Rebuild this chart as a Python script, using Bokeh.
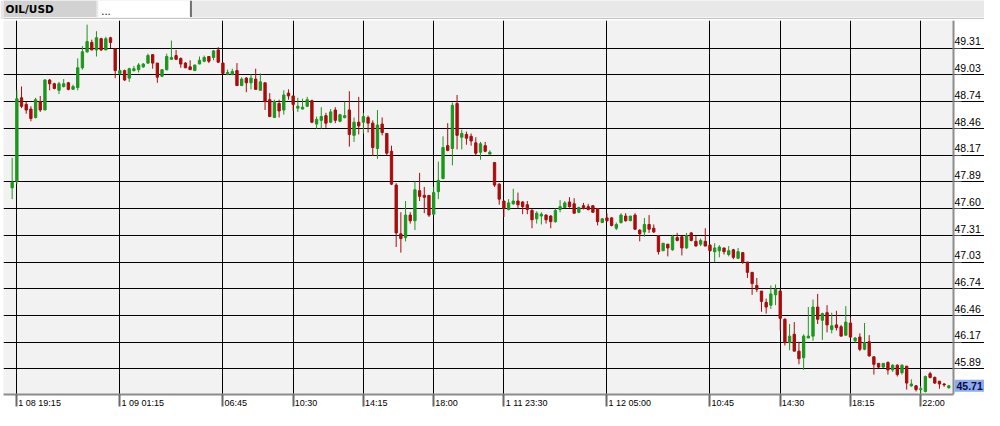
from bokeh.plotting import figure
from bokeh.models import Range1d, FixedTicker, CustomJSTickFormatter, ColumnDataSource, Label
from bokeh.layouts import column
from bokeh.embed import file_html
from bokeh.resources import INLINE
from bokeh.core.properties import value

# ---------------- data ----------------
symbol = "OIL/USD"
tab2_text = "..."

opens = [47.82, 47.89, 48.78, 48.71, 48.66, 48.57, 48.74, 48.65, 48.97, 48.93,
         48.86, 48.90, 48.94, 48.87, 48.89, 49.10, 49.27, 49.37, 49.29, 49.41,
         49.29, 49.42, 49.30, 49.04, 49.07, 48.99, 49.07, 49.08, 49.11, 49.15,
         49.24, 49.15, 49.01, 49.08, 49.19, 49.23, 49.20, 49.15, 49.11, 49.07,
         49.14, 49.17, 49.22, 49.21, 49.29, 49.15, 49.03, 49.03, 49.07, 48.91,
         48.99, 48.94, 48.98, 48.86, 48.94, 48.76, 48.57, 48.72, 48.65, 48.83,
         48.80, 48.67, 48.66, 48.69, 48.75, 48.50, 48.54, 48.59, 48.52, 48.65,
         48.53, 48.57, 48.65, 48.38, 48.52, 48.52, 48.57, 48.51, 48.24, 48.50,
         48.40, 48.21, 47.85, 47.33, 47.29, 47.53, 47.47, 47.79, 47.74, 47.74,
         47.54, 47.78, 47.92, 48.27, 48.24, 48.72, 48.36, 48.39, 48.37, 48.30,
         48.20, 48.27, 48.18, 48.09, 47.86, 47.68, 47.59, 47.65, 47.68, 47.67,
         47.64, 47.58, 47.49, 47.52, 47.53, 47.52, 47.46, 47.59, 47.61, 47.67,
         47.65, 47.56, 47.63, 47.62, 47.63, 47.60, 47.45, 47.50, 47.50, 47.39,
         47.45, 47.52, 47.47, 47.53, 47.37, 47.35, 47.43, 47.39, 47.31, 47.15,
         47.22, 47.16, 47.29, 47.30, 47.18, 47.34, 47.25, 47.22, 47.25, 47.21,
         47.14, 47.15, 47.18, 47.11, 47.16, 47.07, 47.13, 47.03, 46.92, 46.78,
         46.72, 46.60, 46.57, 46.68, 46.72, 46.42, 46.17, 46.26, 46.08, 46.01,
         46.22, 46.24, 46.55, 46.41, 46.49, 46.31, 46.36, 46.34, 46.25, 46.38,
         46.19, 46.23, 46.10, 46.18, 46.02, 45.95, 45.91, 45.96, 45.88, 45.93,
         45.85, 45.92, 45.71, 45.71, 45.67, 45.65, 45.84, 45.80, 45.76, 45.73,
         45.69]
highs = [48.14, 48.86, 48.90, 48.74, 48.69, 48.78, 48.80, 48.98, 48.98, 48.94,
         48.95, 48.98, 48.95, 48.92, 49.20, 49.33, 49.56, 49.40, 49.49, 49.42,
         49.43, 49.43, 49.31, 49.08, 49.08, 49.10, 49.12, 49.15, 49.15, 49.25,
         49.24, 49.15, 49.08, 49.25, 49.39, 49.29, 49.21, 49.16, 49.18, 49.13,
         49.22, 49.23, 49.22, 49.29, 49.32, 49.16, 49.08, 49.09, 49.15, 49.00,
         49.00, 49.03, 49.09, 49.04, 48.94, 48.83, 48.76, 48.76, 48.86, 48.87,
         48.80, 48.78, 48.77, 48.79, 48.76, 48.58, 48.68, 48.62, 48.66, 48.68,
         48.61, 48.74, 48.85, 48.57, 48.79, 48.62, 48.59, 48.54, 48.65, 48.57,
         48.40, 48.27, 47.87, 47.56, 47.68, 47.56, 47.89, 47.98, 47.83, 47.74,
         47.83, 48.10, 48.37, 48.51, 48.73, 48.81, 48.44, 48.42, 48.40, 48.36,
         48.31, 48.31, 48.22, 48.09, 47.87, 47.68, 47.70, 47.81, 47.77, 47.68,
         47.68, 47.60, 47.57, 47.56, 47.54, 47.53, 47.60, 47.69, 47.68, 47.72,
         47.71, 47.62, 47.66, 47.65, 47.63, 47.60, 47.50, 47.55, 47.51, 47.45,
         47.55, 47.55, 47.52, 47.55, 47.38, 47.50, 47.53, 47.43, 47.31, 47.23,
         47.22, 47.32, 47.34, 47.31, 47.34, 47.35, 47.31, 47.28, 47.39, 47.22,
         47.23, 47.21, 47.18, 47.20, 47.17, 47.18, 47.13, 47.03, 46.92, 46.86,
         46.72, 46.64, 46.78, 46.79, 46.74, 46.43, 46.37, 46.39, 46.18, 46.26,
         46.55, 46.63, 46.69, 46.49, 46.57, 46.49, 46.51, 46.36, 46.56, 46.44,
         46.23, 46.27, 46.38, 46.25, 46.02, 45.95, 45.95, 45.97, 45.94, 45.94,
         45.94, 45.92, 45.78, 45.72, 45.71, 45.82, 45.86, 45.81, 45.76, 45.74,
         45.72]
lows = [47.70, 47.86, 48.67, 48.61, 48.53, 48.56, 48.63, 48.65, 48.86, 48.87,
        48.82, 48.89, 48.86, 48.87, 48.86, 49.08, 49.26, 49.29, 49.22, 49.28,
        49.29, 49.31, 48.99, 49.02, 48.96, 48.95, 49.06, 49.05, 49.10, 49.14,
        49.09, 48.94, 49.00, 49.07, 49.19, 49.19, 49.10, 49.10, 49.08, 49.07,
        49.14, 49.16, 49.15, 49.18, 49.15, 49.03, 49.02, 49.02, 48.91, 48.91,
        48.84, 48.87, 48.87, 48.86, 48.65, 48.58, 48.57, 48.57, 48.60, 48.76,
        48.64, 48.63, 48.66, 48.68, 48.51, 48.45, 48.45, 48.46, 48.51, 48.51,
        48.52, 48.56, 48.26, 48.31, 48.39, 48.40, 48.41, 48.16, 48.13, 48.38,
        48.17, 47.85, 47.19, 47.13, 47.25, 47.44, 47.37, 47.68, 47.55, 47.51,
        47.53, 47.70, 47.91, 48.21, 48.06, 48.23, 48.23, 48.28, 48.27, 48.17,
        48.12, 48.20, 48.18, 47.83, 47.64, 47.51, 47.58, 47.64, 47.60, 47.54,
        47.54, 47.39, 47.44, 47.43, 47.44, 47.39, 47.45, 47.56, 47.61, 47.61,
        47.55, 47.55, 47.59, 47.58, 47.56, 47.42, 47.45, 47.46, 47.41, 47.37,
        47.44, 47.46, 47.47, 47.37, 47.25, 47.30, 47.34, 47.34, 47.11, 47.15,
        47.09, 47.15, 47.25, 47.10, 47.17, 47.25, 47.20, 47.20, 47.20, 47.14,
        47.03, 47.08, 47.11, 47.09, 47.06, 47.06, 47.01, 46.86, 46.68, 46.71,
        46.50, 46.48, 46.53, 46.57, 46.30, 46.14, 46.09, 46.08, 45.94, 45.88,
        46.22, 46.19, 46.37, 46.20, 46.28, 46.27, 46.30, 46.24, 46.25, 46.23,
        46.17, 46.08, 46.09, 46.02, 45.83, 45.90, 45.90, 45.83, 45.86, 45.81,
        45.83, 45.67, 45.70, 45.65, 45.62, 45.64, 45.79, 45.73, 45.68, 45.70,
        45.68]
closes = [47.88, 48.77, 48.69, 48.65, 48.56, 48.76, 48.65, 48.97, 48.93, 48.88,
          48.93, 48.93, 48.87, 48.90, 49.10, 49.27, 49.38, 49.29, 49.42, 49.29,
          49.41, 49.37, 49.07, 49.07, 48.97, 49.09, 49.09, 49.13, 49.14, 49.23,
          49.15, 49.00, 49.08, 49.22, 49.21, 49.19, 49.14, 49.10, 49.08, 49.13,
          49.18, 49.21, 49.17, 49.28, 49.16, 49.04, 49.05, 49.06, 48.91, 48.98,
          48.94, 48.99, 48.87, 48.95, 48.74, 48.58, 48.74, 48.64, 48.81, 48.80,
          48.71, 48.69, 48.68, 48.76, 48.52, 48.55, 48.58, 48.51, 48.63, 48.54,
          48.60, 48.59, 48.39, 48.52, 48.48, 48.58, 48.51, 48.25, 48.49, 48.41,
          48.19, 47.86, 47.34, 47.28, 47.53, 47.47, 47.80, 47.73, 47.72, 47.53,
          47.77, 47.90, 48.25, 48.22, 48.70, 48.38, 48.40, 48.35, 48.32, 48.19,
          48.29, 48.21, 48.20, 47.85, 47.70, 47.60, 47.66, 47.68, 47.64, 47.62,
          47.59, 47.48, 47.55, 47.54, 47.48, 47.46, 47.58, 47.62, 47.66, 47.62,
          47.55, 47.61, 47.60, 47.59, 47.56, 47.46, 47.49, 47.47, 47.42, 47.43,
          47.53, 47.47, 47.52, 47.38, 47.33, 47.43, 47.38, 47.35, 47.14, 47.23,
          47.18, 47.30, 47.26, 47.18, 47.31, 47.26, 47.20, 47.26, 47.20, 47.15,
          47.18, 47.19, 47.14, 47.15, 47.08, 47.14, 47.03, 46.92, 46.80, 46.74,
          46.61, 46.55, 46.69, 46.74, 46.43, 46.17, 46.24, 46.08, 46.00, 46.24,
          46.24, 46.55, 46.42, 46.48, 46.36, 46.35, 46.33, 46.24, 46.39, 46.23,
          46.22, 46.10, 46.17, 46.03, 45.94, 45.91, 45.95, 45.88, 45.93, 45.83,
          45.93, 45.74, 45.73, 45.67, 45.68, 45.81, 45.80, 45.74, 45.73, 45.72,
          45.71]

x_tick_index = [1, 23, 45, 60, 75, 90, 105, 127, 149, 164, 179, 194]
x_tick_labels = ["1 08 19:15", "1 09 01:15", "06:45", "10:30", "14:15", "18:00",
                 "1 11 23:30", "1 12 05:00", "10:45", "14:30", "18:15", "22:00"]
y_levels = [45.89, 46.175, 46.46, 46.745, 47.03, 47.315, 47.60, 47.885,
            48.17, 48.455, 48.74, 49.025, 49.31]
y_labels = ["45.89", "46.17", "46.46", "46.74", "47.03", "47.31", "47.60",
            "47.89", "48.17", "48.46", "48.74", "49.03", "49.31"]
last_price = 45.71
last_price_label = "45.71"

# ---------------- layout constants ----------------
W = 984
H_HEAD = 19
H_MAIN = 391
FRAME_LEFT = 3
AXIS_PX = 953          # screen x of the price axis line
X_START, X_AXIS = -1.85, 201.0
Y_START, Y_END = 45.618, 49.604
GREEN = "#1e961e"
RED = "#a80c0c"

px_per_idx = (AXIS_PX - FRAME_LEFT) / (X_AXIS - X_START)
X_FULL = X_AXIS + (W - AXIS_PX) / px_per_idx

# ---------------- header (tabs) ----------------
h = figure(width=W, height=H_HEAD, x_range=Range1d(0, W), y_range=Range1d(H_HEAD, 0),
           output_backend="svg", toolbar_location=None,
           x_axis_location=None, y_axis_location=None, min_border=0,
           background_fill_color="#e8e8e8", border_fill_color="#e8e8e8",
           outline_line_color=None)
h.grid.visible = False
h.quad(left=[0], right=[93], top=[0], bottom=[16.5], fill_color="#d2d2d2", line_color=None)
h.quad(left=[95], right=[187], top=[0], bottom=[16.5], fill_color="white", line_color=None)
h.quad(left=[187], right=[189], top=[0], bottom=[16.5], fill_color="#6e6e6e", line_color=None)
h.quad(left=[0], right=[W], top=[16.5], bottom=[17.5], fill_color="#f4f4f4", line_color=None)
h.quad(left=[0], right=[W], top=[17.5], bottom=[19], fill_color="#c4c4c4", line_color=None)
h.text(x=[2], y=[8], text=[symbol], text_font=value("DejaVu Sans"), text_font_style="bold",
       text_font_size="10.5px", text_baseline="middle", text_align="left", text_color="#000000")
h.text(x=[98], y=[10], text=[tab2_text], text_font=value("DejaVu Sans"),
       text_font_size="10px", text_baseline="middle", text_align="left", text_color="#000000")

# ---------------- main chart ----------------
p = figure(width=W, height=H_MAIN, x_range=Range1d(X_START, X_FULL), y_range=Range1d(Y_START, Y_END),
           output_backend="svg", toolbar_location=None,
           x_axis_location="below", y_axis_location="right",
           min_border_left=FRAME_LEFT, min_border_right=0, min_border_top=1, min_border_bottom=12,
           background_fill_color="#f2f2f2", border_fill_color="white",
           outline_line_color=None)


def text_px(s, size):
    return size * sum(0.556 if ch.isdigit() else 0.278 for ch in s)


x_label_pos = [t + (text_px(s, 9) / 2 + 1.5) / px_per_idx for t, s in zip(x_tick_index, x_tick_labels)]

xa = p.xaxis[0]
xa.bounds = (X_START, X_AXIS)
xa.ticker = FixedTicker(ticks=x_label_pos, minor_ticks=x_tick_index)
xa.formatter = CustomJSTickFormatter(args=dict(labels=x_tick_labels), code="return labels[index];")
xa.major_tick_out = 0
xa.major_tick_in = 0
xa.minor_tick_out = 12
xa.minor_tick_in = 0
xa.minor_tick_line_color = "#6a6a6a"
xa.minor_tick_line_width = 2
xa.axis_line_color = "#8c8c8c"
xa.axis_line_width = 2
xa.major_label_standoff = -9
xa.major_label_text_font = "Liberation Sans"
xa.major_label_text_font_size = "9px"
xa.major_label_text_color = "#000000"

y_shift = 0.072
ya = p.yaxis[0]
ya.fixed_location = X_AXIS
ya.ticker = FixedTicker(ticks=[v + y_shift for v in y_levels], minor_ticks=y_levels)
ya.formatter = CustomJSTickFormatter(args=dict(labels=y_labels), code="return labels[index];")
ya.major_tick_out = 0
ya.major_tick_in = 0
ya.minor_tick_out = 8
ya.minor_tick_in = 0
ya.minor_tick_line_color = "#555555"
ya.minor_tick_line_width = 1
ya.axis_line_color = "#8c8c8c"
ya.axis_line_width = 2
ya.major_label_standoff = -7
ya.major_label_text_font = "Liberation Sans"
ya.major_label_text_font_size = "10.5px"
ya.major_label_text_color = "#000000"

p.xgrid.ticker = FixedTicker(ticks=x_tick_index)
p.ygrid.ticker = FixedTicker(ticks=y_levels)
p.grid.grid_line_color = "#000000"
p.grid.grid_line_width = 1
p.grid.grid_line_alpha = 1.0

# white margin right of the price axis (covers the grid there)
p.quad(left=[X_AXIS], right=[X_FULL], bottom=[Y_START], top=[Y_END],
       fill_color="white", line_color=None, level="underlay")

idx = list(range(len(opens)))
colors = [GREEN if c >= o else RED for o, c in zip(opens, closes)]
src = ColumnDataSource(dict(
    x=idx, o=opens, h=highs, l=lows, c=closes,
    top=[max(o, c) for o, c in zip(opens, closes)],
    bottom=[min(o, c) for o, c in zip(opens, closes)],
    color=colors,
))
p.segment(x0="x", y0="h", x1="x", y1="l", line_color="color", line_width=1, source=src)
p.vbar(x="x", width=0.5, top="top", bottom="bottom", fill_color="color",
       line_color="color", line_width=1, source=src)

p.add_layout(Label(x=X_AXIS, y=last_price, text=last_price_label, x_offset=1,
                   text_align="left", text_baseline="middle",
                   text_font="Liberation Sans", text_font_size="10.5px", text_font_style="bold",
                   text_color="#0a0a3c", background_fill_color="#8cabf0",
                   padding=2))

layout = column(h, p, spacing=0)
open("out.html", "w").write(file_html(layout, INLINE))
